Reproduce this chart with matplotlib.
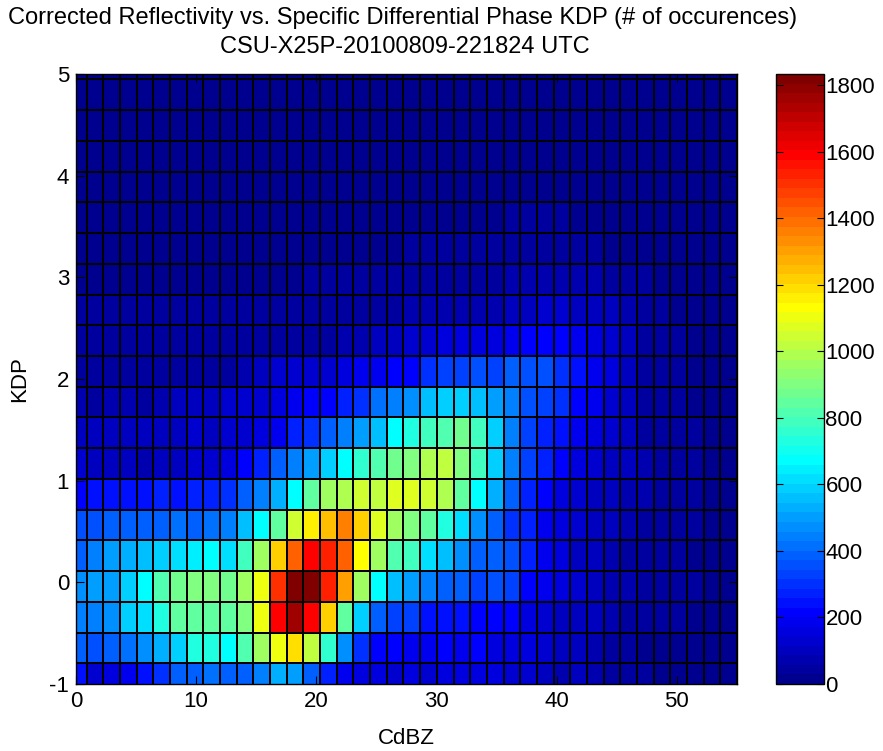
import numpy as np
import matplotlib
matplotlib.use('Agg')
import matplotlib.pyplot as plt
from matplotlib.colors import ListedColormap, Normalize

# ---------------- data ----------------
# bin edges (CdBZ along x, KDP along y)
x_edges = np.linspace(-0.5, 55.0, 41)
y_edges = np.linspace(-1.1, 5.25, 22)

x_ticks = [0, 10, 20, 30, 40, 50]
y_ticks = [-1, 0, 1, 2, 3, 4, 5]
cb_ticks = [0, 200, 400, 600, 800, 1000, 1200, 1400, 1600, 1800]

title_line1 = "Corrected Reflectivity vs. Specific Differential Phase KDP (# of occurences)"
title_line2 = "CSU-X25P-20100809-221824 UTC"
x_label = "CdBZ"
y_label = "KDP"

# counts per cell, rows from bottom (KDP low) to top, 40 columns each
row00 = [230,130,169,190,240,307,376,398,420,376,398,444,536,490,376,284,192,146,146,135,146,135,169,169,146,146,123,115,86,78,86,69,45,32,30,25,20,15,12,10]
row01 = [398,353,376,421,467,536,582,743,720,674,812,949,1110,1202,1018,766,467,307,215,205,190,180,210,192,210,169,146,146,123,100,86,69,45,32,25,20,15,12,10,8]
row02 = [444,444,467,582,605,743,858,858,858,835,904,1110,1592,1753,1600,1225,835,582,398,330,330,238,238,238,215,215,215,169,123,100,100,86,70,55,45,35,30,25,18,15]
row03 = [467,490,490,582,674,812,881,904,904,881,949,1110,1500,1834,1815,1523,1317,949,674,559,513,444,376,376,330,353,330,215,192,146,115,100,78,69,55,45,35,30,22,18]
row04 = [398,444,490,536,559,582,628,651,674,605,789,949,1225,1408,1592,1546,1408,1133,949,812,789,605,559,467,398,376,353,261,192,146,100,86,69,55,45,35,30,25,20,15]
row05 = [353,353,376,376,376,398,421,398,421,444,559,674,835,1041,1160,1248,1362,1225,1087,949,904,858,720,628,467,398,307,284,192,146,115,100,86,78,55,45,35,30,25,20]
row06 = [215,238,238,238,238,261,238,261,284,307,376,444,536,674,858,972,995,1041,1018,1064,1087,1041,995,858,674,536,376,284,215,169,123,100,90,78,65,50,40,30,25,20]
row07 = [123,100,86,86,78,86,100,115,132,169,215,284,376,444,513,582,674,766,812,881,904,995,1018,904,789,582,444,340,284,225,169,132,100,86,69,50,40,30,25,20]
row08 = [100,86,100,100,86,86,100,115,100,123,123,146,192,261,307,376,444,513,559,674,720,800,820,881,789,582,444,330,270,238,192,146,115,86,55,40,32,30,15,15]
row09 = [78,55,69,78,55,69,86,86,100,115,123,132,146,192,215,215,270,300,410,444,467,559,590,590,545,500,444,353,340,315,228,200,132,95,55,38,32,28,15,15]
row10 = [55,45,45,45,40,40,40,55,55,55,69,86,115,130,125,130,155,178,192,215,215,307,330,330,353,340,376,353,353,307,238,192,146,100,55,40,32,28,20,15]
row11 = [38,35,35,35,35,35,35,38,38,38,40,40,40,45,55,55,69,78,86,100,115,123,146,169,169,169,200,215,205,215,180,169,132,100,55,40,32,28,20,15]
row12 = [30,30,30,30,30,30,30,30,30,32,32,32,35,35,40,45,45,50,55,55,60,65,69,69,75,80,110,90,120,120,110,105,86,78,40,32,28,25,20,15]
row13 = [22,22,22,22,22,22,22,22,22,22,22,25,25,25,30,30,32,35,35,38,40,40,42,45,45,50,60,65,70,70,65,60,55,50,30,28,25,22,18,15]
row14 = [18,18,18,18,18,18,18,18,18,18,18,18,20,20,22,22,25,25,28,28,30,30,32,32,35,45,50,50,55,50,45,40,28,25,22,20,18,15,12,10]
row15 = [15,15,15,15,15,15,15,15,15,15,15,15,15,15,18,18,20,20,22,22,25,25,25,25,28,28,30,32,32,30,28,25,22,18,15,12,10,10,8,8]
row16 = [10,10,10,10,10,10,10,10,10,10,10,10,10,12,12,12,14,14,15,15,16,16,18,18,18,20,20,22,22,20,18,16,14,12,10,10,8,8,6,6]
row17 = [8,8,8,8,8,8,8,8,8,8,8,8,8,8,9,9,10,10,10,11,11,12,12,12,13,13,14,15,15,14,13,12,10,9,8,7,6,6,5,5]
row18 = [6,6,6,6,6,6,6,6,6,6,6,6,6,6,6,7,7,7,8,8,8,8,9,9,9,10,10,10,10,10,9,8,7,6,6,5,5,4,4,4]
row19 = [4,4,4,4,4,4,4,4,4,4,4,4,4,4,4,4,5,5,5,5,5,6,6,6,6,6,7,7,7,6,6,5,5,4,4,3,3,3,2,2]
row20 = [1,1,1,1,1,1,1,1,1,1,1,1,1,1,1,1,2,2,2,2,2,2,2,2,2,2,3,3,3,2,2,2,2,1,1,1,1,0,0,0]

counts = np.array([row00, row01, row02, row03, row04, row05, row06, row07, row08, row09,
                   row10, row11, row12, row13, row14, row15, row16, row17, row18, row19, row20],
                  dtype=float)


def matlab_jet(m=64):
    n = int(np.ceil(m / 4))
    u = np.concatenate([np.arange(1, n + 1) / n, np.ones(n - 1), np.arange(n, 0, -1) / n])
    g = int(np.ceil(n / 2)) - (1 if m % 4 == 1 else 0) + np.arange(1, len(u) + 1)
    r = g + n
    b = g - n
    J = np.zeros((m, 3))
    k = r <= m
    J[r[k] - 1, 0] = u[k]
    k = g <= m
    J[g[k] - 1, 1] = u[k]
    k = b >= 1
    J[b[k] - 1, 2] = u[k]
    return J


cmap = ListedColormap(matlab_jet(64))
norm = Normalize(vmin=counts.min(), vmax=counts.max())

plt.rcParams['font.family'] = ['Liberation Sans', 'DejaVu Sans']
plt.rcParams['axes.unicode_minus'] = False
FS = 16
FT = 17

W, H = 883, 751
fig = plt.figure(figsize=(W / 100, H / 100), dpi=100)
ax_l, ax_r, ax_t, ax_b = 76, 737, 74, 684
ax = fig.add_axes([ax_l / W, 1 - ax_b / H, (ax_r - ax_l) / W, (ax_b - ax_t) / H])

mesh = ax.pcolormesh(x_edges, y_edges, counts, cmap=cmap, norm=norm,
                     edgecolors='none', antialiased=False)
# cell borders (pcolor-style black grid)
ax.vlines(x_edges, y_edges[0], y_edges[-1], colors='k', linewidth=1.44,
          snap=True, antialiased=False)
ax.hlines(y_edges, x_edges[0], x_edges[-1], colors='k', linewidth=1.44,
          snap=True, antialiased=False)

ax.set_xlim(0, 55)
ax.set_ylim(-1, 5)
ax.set_xticks(x_ticks)
ax.set_yticks(y_ticks)
ax.tick_params(direction='in', top=True, right=True, length=6, width=0.8,
               labelsize=FS, pad=5, colors='k')
for s in ax.spines.values():
    s.set_linewidth(1.0)
ax.set_xlabel(x_label, fontsize=FS, va='center')
ax.xaxis.set_label_coords(0.5, -(738 - ax_b) / (ax_b - ax_t))
ax.set_ylabel(y_label, fontsize=FS, va='center')
ax.yaxis.set_label_coords(-(ax_l - 20) / (ax_r - ax_l), 0.5)

cax = fig.add_axes([776 / W, 1 - ax_b / H, 48 / W, (ax_b - ax_t) / H])
cb = fig.colorbar(mesh, cax=cax)
cb.set_ticks(cb_ticks)
cb.outline.set_linewidth(1.0)
cax.tick_params(direction='in', left=True, right=True, length=5, width=0.8,
                labelsize=FS, pad=1)

fig.text(403 / W, 1 - 18 / H, title_line1, ha='center', va='center', fontsize=FT)
fig.text(405 / W, 1 - 47 / H, title_line2, ha='center', va='center', fontsize=FT)

fig.savefig('out.png', dpi=100)
